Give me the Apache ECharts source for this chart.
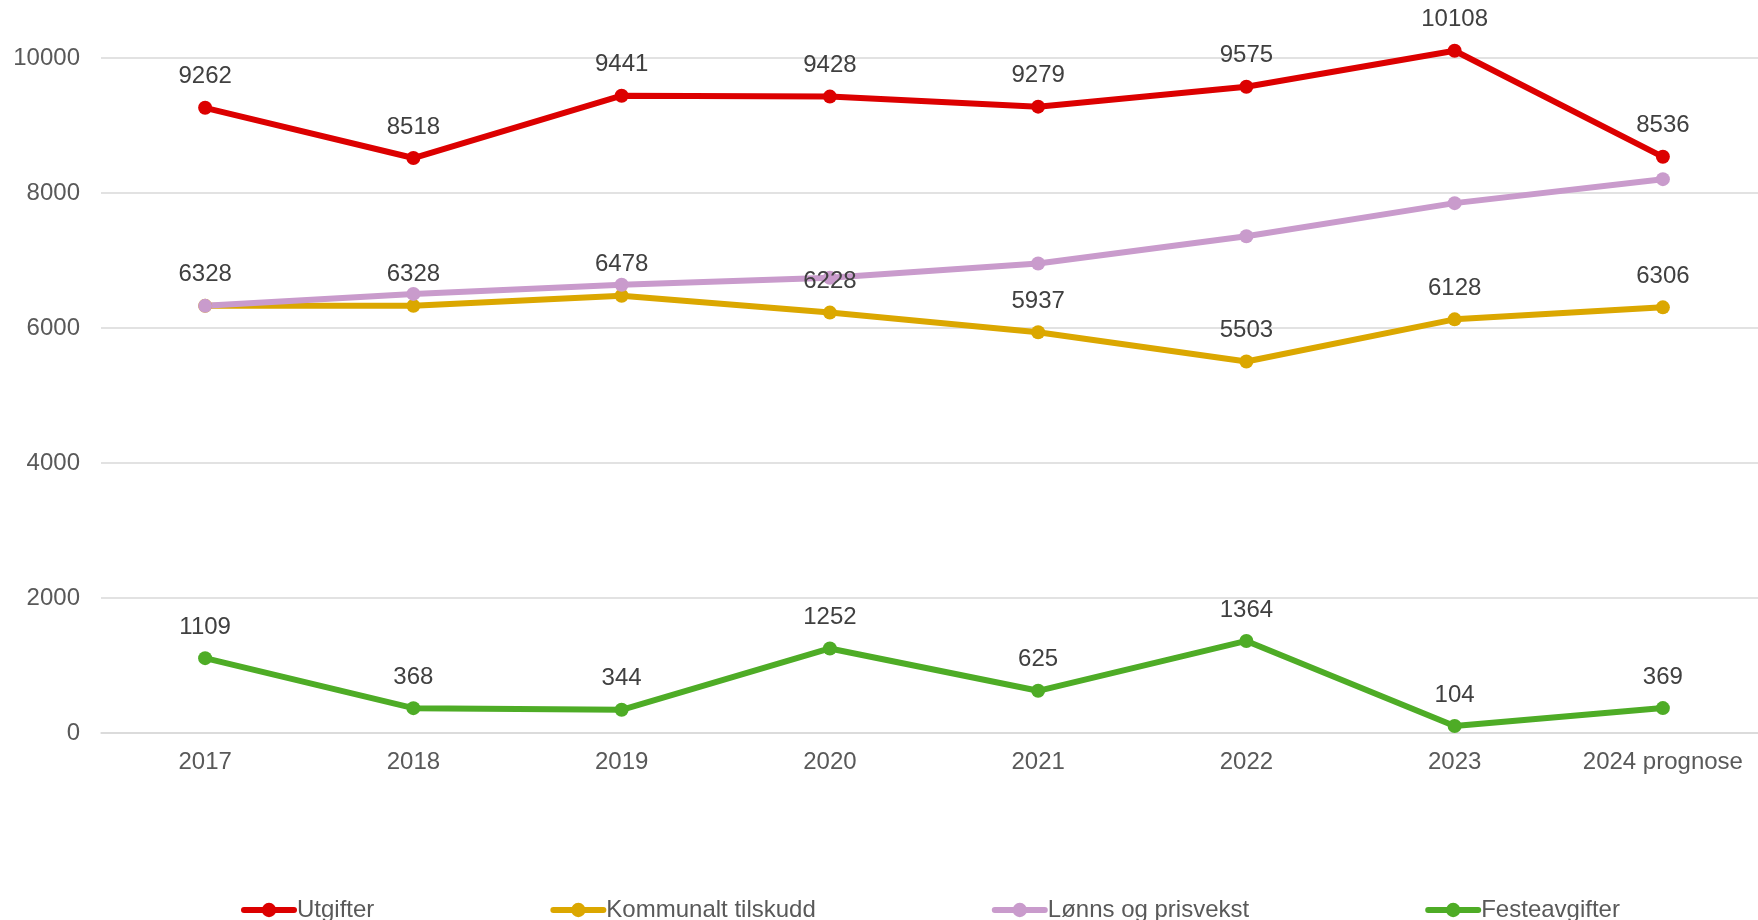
<!DOCTYPE html>
<html>
<head>
<meta charset="utf-8">
<script src="https://cdn.jsdelivr.net/npm/echarts@6/dist/echarts.min.js"></script>
<style>
  html, body { margin: 0; padding: 0; background: #fff; overflow: hidden; }
  #chart { width: 1770px; height: 920px; }
</style>
</head>
<body>
<div id="chart"></div>
<script>
// categories and values
const years = ['2017', '2018', '2019', '2020', '2021', '2022', '2023', '2024 prognose'];
const utgifter = [9262, 8518, 9441, 9428, 9279, 9575, 10108, 8536];
const kommunalt = [6328, 6328, 6478, 6228, 5937, 5503, 6128, 6306];
const lonnsPris = [6328, 6505, 6640, 6745, 6955, 7360, 7850, 8205];
const festeavgifter = [1109, 368, 344, 1252, 625, 1364, 104, 369];
const yTicks = [0, 2000, 4000, 6000, 8000, 10000];

const font = 'Liberation Sans, Arial, sans-serif';

function makeSeries(name, data, color, showLabel) {
  return {
    name: name,
    type: 'line',
    data: data,
    symbol: 'circle',
    symbolSize: 14,
    clip: false,
    lineStyle: { color: color, width: 6, cap: 'round', join: 'round' },
    itemStyle: { color: color },
    label: {
      show: showLabel,
      position: 'top',
      distance: 12,
      color: '#404040',
      fontFamily: font,
      fontSize: 24
    },
    emphasis: { disabled: true }
  };
}

// the plot runs a little past the right edge of the window, as in the original
const chart = echarts.init(document.getElementById('chart'));
chart.setOption({
  animation: false,
  textStyle: { fontFamily: font },
  grid: { left: 101, top: 58, width: 1666, height: 675, containLabel: false },
  legend: {
    left: 236,
    top: 893,
    itemGap: 176,
    itemWidth: 50,
    itemHeight: 18,
    lineStyle: { width: 6 },
    textStyle: { color: '#595959', fontSize: 24, fontFamily: font, padding: [0, 0, 0, -2] },
    data: ['Utgifter', 'Kommunalt tilskudd', 'Lønns og prisvekst', 'Festeavgifter']
  },
  xAxis: {
    type: 'category',
    data: years,
    boundaryGap: true,
    axisLine: { show: true, lineStyle: { color: '#d9d9d9', width: 1.5 } },
    axisTick: { show: false },
    axisLabel: { interval: 0, color: '#595959', fontSize: 24, fontFamily: font, margin: 17 }
  },
  yAxis: {
    type: 'value',
    min: yTicks[0],
    max: yTicks[yTicks.length - 1],
    interval: 2000,
    axisLine: { show: false },
    axisTick: { show: false },
    axisLabel: { color: '#595959', fontSize: 24, fontFamily: font, margin: 21, formatter: v => String(v) },
    splitLine: { lineStyle: { color: '#d9d9d9', width: 1.5 } }
  },
  series: [
    makeSeries('Utgifter', utgifter, '#dc0000', true),
    makeSeries('Kommunalt tilskudd', kommunalt, '#dba700', true),
    makeSeries('Lønns og prisvekst', lonnsPris, '#c99bcc', false),
    makeSeries('Festeavgifter', festeavgifter, '#4eac26', true)
  ]
});
</script>
</body>
</html>
